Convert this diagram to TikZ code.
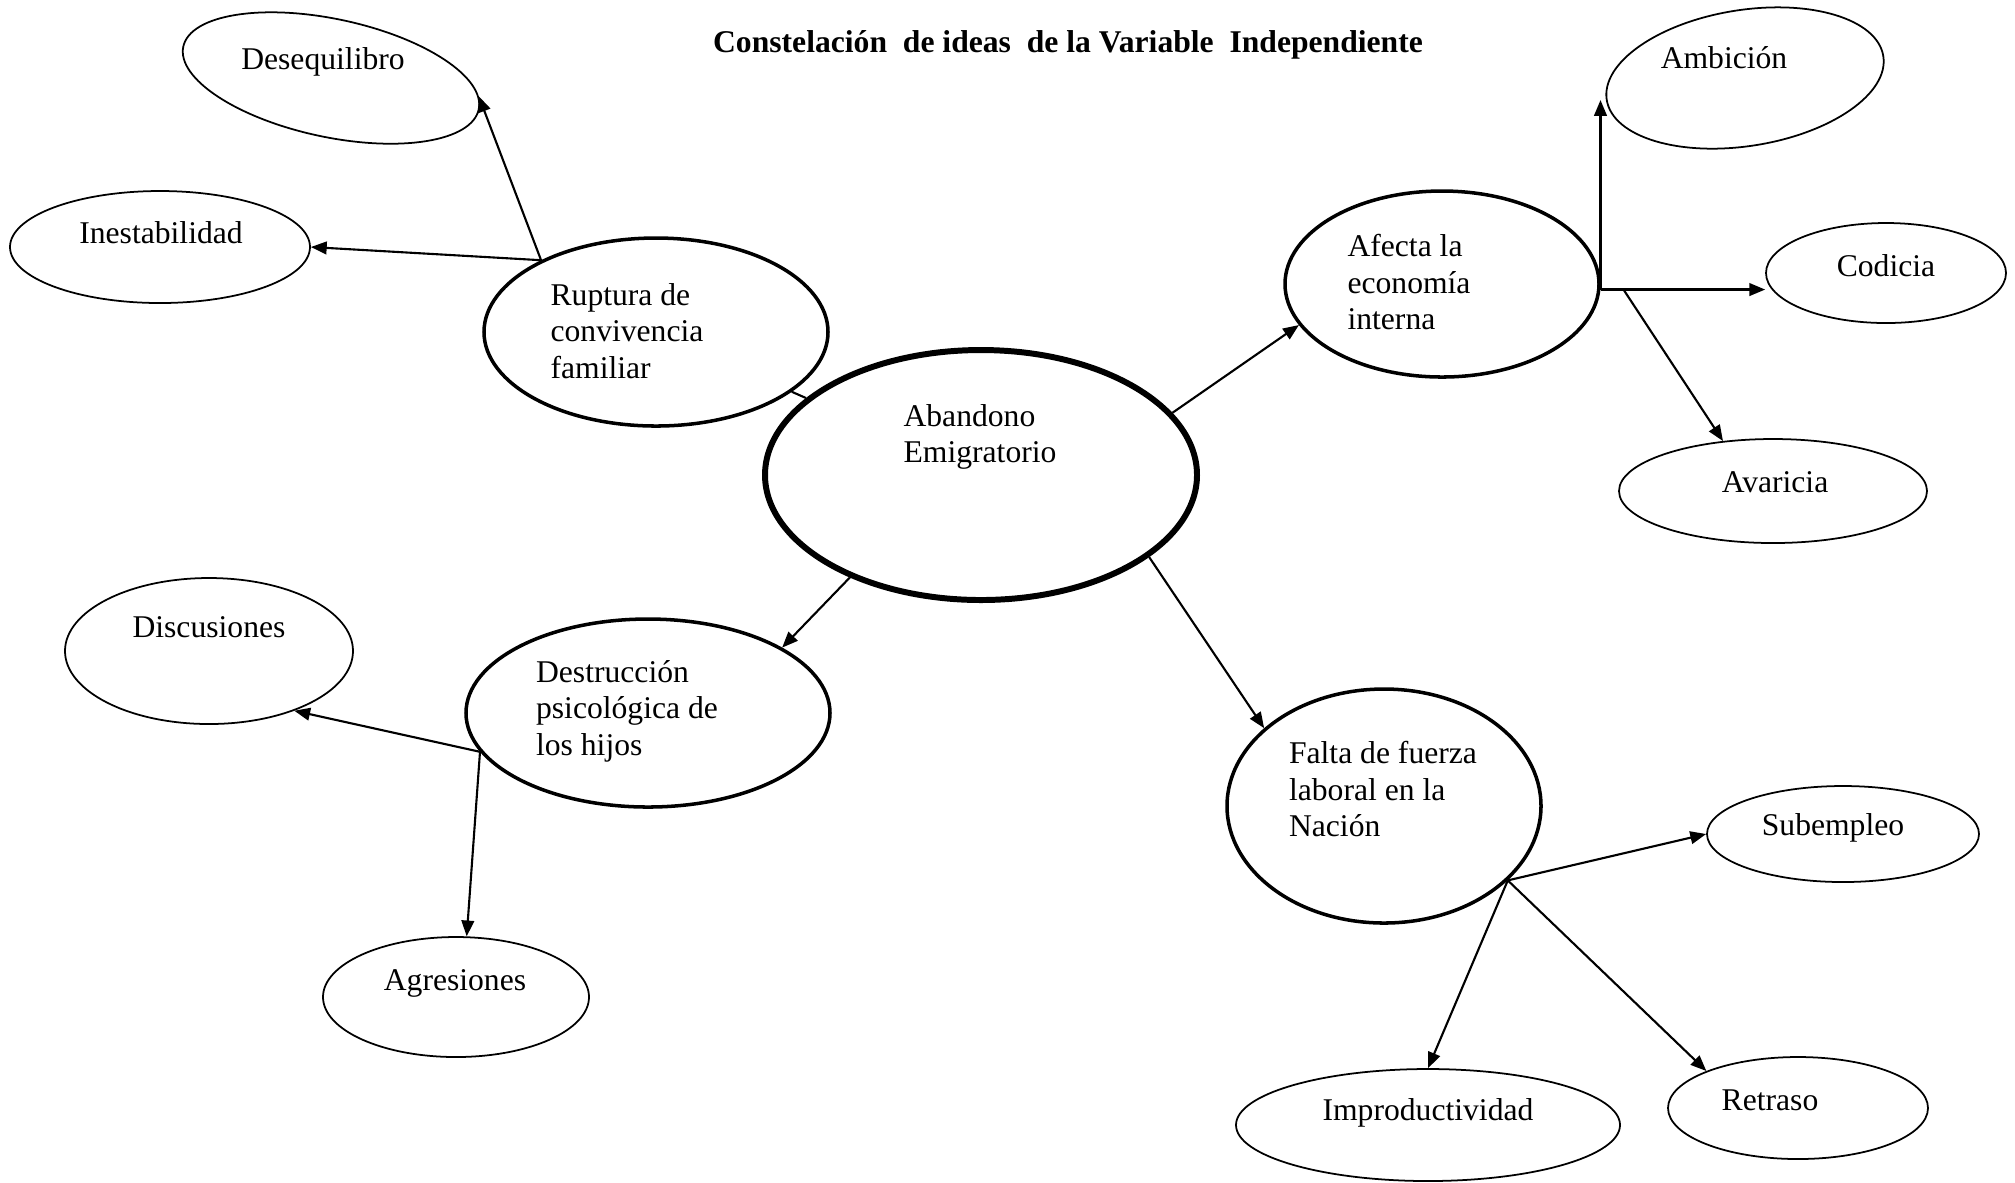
\documentclass[tikz,border=0pt]{standalone}
\usepackage{fontspec}
\setmainfont{Liberation Serif}
\usetikzlibrary{shapes.geometric, positioning, arrows.meta}

\tikzset{
  idea/.style={ellipse, draw, inner sep=0pt},
  hoja/.style={idea, line width=0.5pt},
  rama/.style={idea, line width=1pt},
  txt/.style={align=left, inner sep=0pt, font=\fontsize{9}{10.4}\selectfont},
}

\begin{document}
\begin{tikzpicture}[-{Triangle[length=4.5pt,width=3.6pt]}, line width=0.6pt, on grid]
    \useasboundingbox (0,0) rectangle (20.15,-11.82);
    \node[txt, font=\bfseries\fontsize{9}{10.4}\selectfont] (tit) at (10.68,-0.45)
      {Constelación\ \ de ideas\ \ de la Variable\ \ Independiente};

    \node[idea, line width=1.7pt, minimum width=4.32cm, minimum height=2.5cm] (ab) at (9.81,-4.75) {};
    \node[rama, minimum width=3.44cm, minimum height=1.88cm, above left=1.43cm and 3.25cm of ab] (rup) {};
    \node[rama, minimum width=3.14cm, minimum height=1.86cm, above right=1.91cm and 4.61cm of ab] (af) {};
    \node[rama, minimum width=3.64cm, minimum height=1.88cm, below left=2.38cm and 3.33cm of ab] (destr) {};
    \node[rama, minimum width=3.14cm, minimum height=2.34cm, below right=3.31cm and 4.03cm of ab] (fal) {};

    \node[hoja, minimum width=3cm, minimum height=1.12cm, above left=0.85cm and 4.96cm of rup] (ines) {};
    \node[hoja, rotate=-12, minimum width=3.02cm, minimum height=1.18cm, above left=2.54cm and 3.25cm of rup] (deq) {};
    \node[hoja, rotate=9, minimum width=2.8cm, minimum height=1.36cm, above right=2.06cm and 3.03cm of af] (amb) {};
    \node[hoja, minimum width=2.4cm, minimum height=1cm, above right=0.11cm and 4.44cm of af] (cod) {};
    \node[hoja, minimum width=3.08cm, minimum height=1.04cm, below right=2.07cm and 3.31cm of af] (ava) {};
    \node[hoja, minimum width=2.88cm, minimum height=1.46cm, above left=0.62cm and 4.39cm of destr] (dis) {};
    \node[hoja, minimum width=2.66cm, minimum height=1.2cm, below left=2.84cm and 1.92cm of destr] (agr) {};
    \node[hoja, minimum width=2.72cm, minimum height=0.96cm, below right=0.28cm and 4.59cm of fal] (sub) {};
    \node[hoja, minimum width=3.84cm, minimum height=1.12cm, below right=3.19cm and 0.44cm of fal] (imp) {};
    \node[hoja, minimum width=2.6cm, minimum height=1.02cm, below right=3.02cm and 4.14cm of fal] (ret) {};

    \node[txt, xshift=-0.1mm, yshift=3.8mm] (abt) at (ab) {Abandono\\Emigratorio};
    \node[txt, xshift=-2.9mm, yshift=0.1mm] (rupt) at (rup) {Ruptura de\\convivencia\\familiar};
    \node[txt, xshift=-3.3mm, yshift=0.2mm] (aft) at (af) {Afecta la\\economía\\interna};
    \node[txt, xshift=-2.1mm, yshift=0.2mm] (destrt) at (destr) {Destrucción\\psicológica de\\los hijos};
    \node[txt, xshift=-0.1mm, yshift=1.7mm] (falt) at (fal) {Falta de fuerza\\laboral en la\\Nación};
    \node[txt, xshift=0.1mm, yshift=1.4mm] (inest) at (ines) {Inestabilidad};
    \node[txt, xshift=-0.8mm, yshift=1.6mm] (deqt) at (deq) {Desequilibro};
    \node[txt, xshift=-2.1mm, yshift=2mm] (ambt) at (amb) {Ambición};
    \node[txt, yshift=0.7mm] (codt) at (cod) {Codicia};
    \node[txt, xshift=0.2mm, yshift=0.9mm] (avat) at (ava) {Avaricia};
    \node[txt, yshift=2.4mm] (dist) at (dis) {Discusiones};
    \node[txt, xshift=-0.1mm, yshift=1.4mm] (agrt) at (agr) {Agresiones};
    \node[txt, xshift=-1mm, yshift=0.6mm] (subt) at (sub) {Subempleo};
    \node[txt, yshift=1.2mm] (impt) at (imp) {Improductividad};
    \node[txt, xshift=-2.8mm, yshift=0.8mm] (rett) at (ret) {Retraso};

    \draw[-] (rup) -- (ab);
    \draw (ab.18) -- (af.196);
    \draw (ab.218) -- (destr.26);
    \draw (ab.-26) -- (fal.147);

    \draw (rup.148) -- (ines.east);
    \draw (rup.148) -- (deq.5);

    \coordinate (afx) at (af.-2);
    \coordinate[right=2.3mm of afx] (afy);
    \draw (afx) -- (afx |- amb.west);
    \draw (afx) -- (afx -| cod.west);
    \draw (afy) -- (ava.135);

    \coordinate (dx) at (destr.193);
    \draw (dx) -- (dis.-35);
    \draw (dx) -- (agr.80);

    \coordinate (fx) at (fal.-31);
    \draw (fx) -- (sub.west);
    \draw (fx) -- (imp.north);
    \draw (fx) -- (ret.158);
\end{tikzpicture}
\end{document}
